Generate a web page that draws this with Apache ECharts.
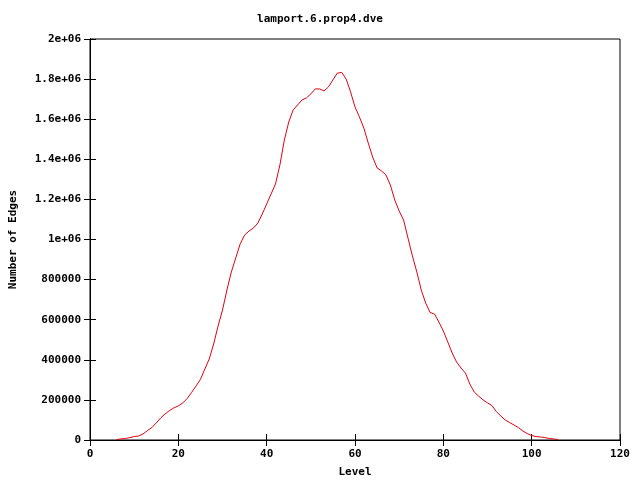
<!DOCTYPE html>
<html>
<head>
<meta charset="utf-8">
<script src="https://cdn.jsdelivr.net/npm/echarts@6/dist/echarts.min.js"></script>
<style>html,body{margin:0;padding:0;background:#fff}#c{width:640px;height:480px}</style>
</head>
<body>
<div id="c"></div>
<script>
const title = "lamport.6.prop4.dve";
const xName = "Level";
const yName = "Number of Edges";
const levels = [6,7,8,9,10,11,12,13,14,15,16,17,18,19,20,21,22,23,24,25,26,27,28,29,30,31,32,33,34,35,36,37,38,39,40,41,42,43,44,45,46,47,48,49,50,51,52,53,54,55,56,57,58,59,60,61,62,63,64,65,66,67,68,69,70,71,72,73,74,75,76,77,78,79,80,81,82,83,84,85,86,87,88,89,90,91,92,93,94,95,96,97,98,99,100,101,102,103,104,105,106];
const edges = [2500,5000,7500,12000,17000,20000,30000,47000,62000,85000,110000,130000,147000,160000,170000,185000,207000,237000,269000,302000,354000,404000,479000,569000,648000,748000,838000,908000,978000,1022000,1042000,1057000,1082000,1127000,1177000,1227000,1277000,1372000,1496000,1586000,1646000,1671000,1696000,1706000,1726000,1751000,1751000,1741000,1761000,1796000,1830000,1833000,1800000,1736000,1661000,1611000,1556000,1481000,1411000,1357000,1342000,1322000,1272000,1197000,1142000,1097000,1007000,918000,838000,748000,683000,636000,628000,588000,544000,489000,434000,389000,359000,334000,279000,239000,219000,200000,185000,172000,142000,120000,100000,87000,75000,62000,45000,32000,22000,17000,15000,12000,7500,5000,2500];

const font = {fontFamily: 'DejaVu Sans Mono', fontWeight: 'bold', fontSize: 11, color: '#000'};
function yfmt(v){
  if (v >= 1e6) {
    let m = v / 1e6;
    let s = (Math.round(m*10)/10).toString();
    return s + 'e+06';
  }
  return String(v);
}
const chart = echarts.init(document.getElementById('c'), null, {renderer: 'canvas'});
const tick = {show: true, inside: true, length: 6, lineStyle: {color: '#000', width: 1}};
chart.setOption({
  animation: false,
  backgroundColor: '#fff',
  title: {text: title, left: 'center', top: 9, textStyle: Object.assign({}, font)},
  grid: {left: 90, right: 20, top: 39, bottom: 40, show: true, borderColor: '#000', borderWidth: 1,
         containLabel: false, outerBoundsMode: 'none'},
  xAxis: [{
    type: 'value', min: 0, max: 120, interval: 20,
    name: xName, nameLocation: 'middle', nameGap: 27, nameTextStyle: Object.assign({}, font),
    axisLine: {show: true, lineStyle: {color: '#000'}},
    axisTick: tick, splitLine: {show: false},
    axisLabel: Object.assign({margin: 9}, font)
  }, {
    type: 'value', min: 0, max: 120, interval: 20, position: 'top',
    axisLine: {show: true, lineStyle: {color: '#000'}},
    axisTick: tick, splitLine: {show: false}, axisLabel: {show: false}
  }],
  yAxis: [{
    type: 'value', min: 0, max: 2000000, interval: 200000,
    name: yName, nameLocation: 'middle', nameGap: 71, nameRotate: 90, nameTextStyle: Object.assign({}, font),
    axisLine: {show: true, lineStyle: {color: '#000'}},
    axisTick: tick, splitLine: {show: false},
    axisLabel: Object.assign({margin: 9, formatter: yfmt}, font)
  }, {
    type: 'value', min: 0, max: 2000000, interval: 200000, position: 'right',
    axisLine: {show: true, lineStyle: {color: '#000'}},
    axisTick: tick, splitLine: {show: false}, axisLabel: {show: false}
  }],
  series: [{
    type: 'line', data: levels.map((l, i) => [l, edges[i]]),
    showSymbol: false, smooth: false,
    lineStyle: {color: '#e00010', width: 1}, itemStyle: {color: '#e00010'}
  }]
});
</script>
</body>
</html>
